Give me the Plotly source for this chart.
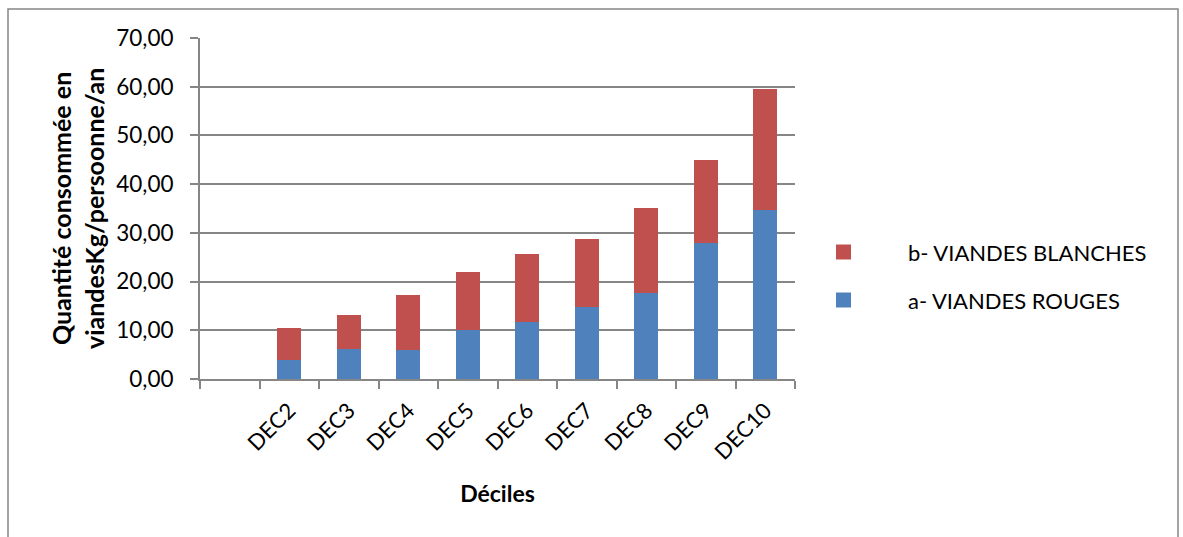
import plotly.graph_objects as go

# Consumption per decile (kg / person / year)
categories = [" ", "DEC2", "DEC3", "DEC4", "DEC5", "DEC6", "DEC7", "DEC8", "DEC9", "DEC10"]
viandes_rouges = [None, 4.0, 6.1, 5.9, 10.1, 11.6, 14.7, 17.6, 27.9, 34.7]
viandes_blanches = [None, 6.4, 7.0, 11.4, 11.8, 14.1, 14.0, 17.6, 17.1, 24.9]
series_names = ["a- VIANDES ROUGES", "b- VIANDES BLANCHES"]
colors = ["#4F81BD", "#C0504D"]
y_title = "<b>Quantité consommée en<br>viandesKg/persoonne/an</b>"
x_title = "<b>Déciles</b>"

W, H = 1183, 537
L, R, T, B = 200, 388, 38, 158
pw, ph = W - L - R, H - T - B

def px_x(p):
    return (p - L) / pw

def px_y(p):
    return (H - B - p) / ph

FONT = "Lato"
GRID = "#868686"

fig = go.Figure()
for name, vals, col in zip(series_names, [viandes_rouges, viandes_blanches], colors):
    fig.add_trace(go.Bar(x=categories, y=vals, name=name, marker_color=col,
                         marker_line_width=0, width=0.4, showlegend=False))

fig.update_layout(
    width=W, height=H,
    margin=dict(l=L, r=R, t=T, b=B),
    barmode="stack",
    plot_bgcolor="white", paper_bgcolor="white",
    separators=", ",
    font=dict(family=FONT, color="#000000"),
    xaxis=dict(
        type="category", categoryorder="array", categoryarray=categories,
        tickson="boundaries", ticks="outside", ticklen=8, tickwidth=2, tickcolor=GRID,
        showline=True, linecolor=GRID, linewidth=2, showgrid=False,
        tickangle=-45, tickfont=dict(size=22, family=FONT),
        ticklabelstandoff=8,
        title=dict(text=x_title, font=dict(size=23, family=FONT), standoff=22),
    ),
    yaxis=dict(
        range=[0, 70], dtick=10, tickformat=".2f",
        ticks="outside", ticklen=8, tickwidth=2, tickcolor=GRID,
        showline=True, linecolor=GRID, linewidth=2,
        showgrid=True, gridcolor=GRID, gridwidth=2,
        zeroline=False,
        tickfont=dict(size=22.5, family=FONT),
        ticklabelstandoff=12,
    ),
)

# Vertical axis title
fig.add_annotation(xref="paper", yref="paper", x=px_x(77), y=px_y(209),
                   text=y_title, textangle=-90, showarrow=False,
                   xanchor="center", yanchor="middle",
                   font=dict(size=25, family=FONT))

# Legend drawn as squares + labels, top entry is the upper stack
legend_rows = [(series_names[1], colors[1], 252), (series_names[0], colors[0], 300)]
for name, col, yc in legend_rows:
    fig.add_shape(type="rect", xref="paper", yref="paper",
                  x0=px_x(836), x1=px_x(851), y0=px_y(yc + 7.5), y1=px_y(yc - 7.5),
                  fillcolor=col, line_width=0)
    fig.add_annotation(xref="paper", yref="paper", x=px_x(906), y=px_y(yc),
                       text=name, showarrow=False, xanchor="left", yanchor="middle",
                       font=dict(size=22, family=FONT))

# Chart frame
fig.add_shape(type="rect", xref="paper", yref="paper",
              x0=px_x(8), x1=px_x(1178), y0=px_y(545), y1=px_y(9),
              line=dict(color=GRID, width=1.5), fillcolor="rgba(0,0,0,0)", layer="below")

fig.write_html("out.html")
